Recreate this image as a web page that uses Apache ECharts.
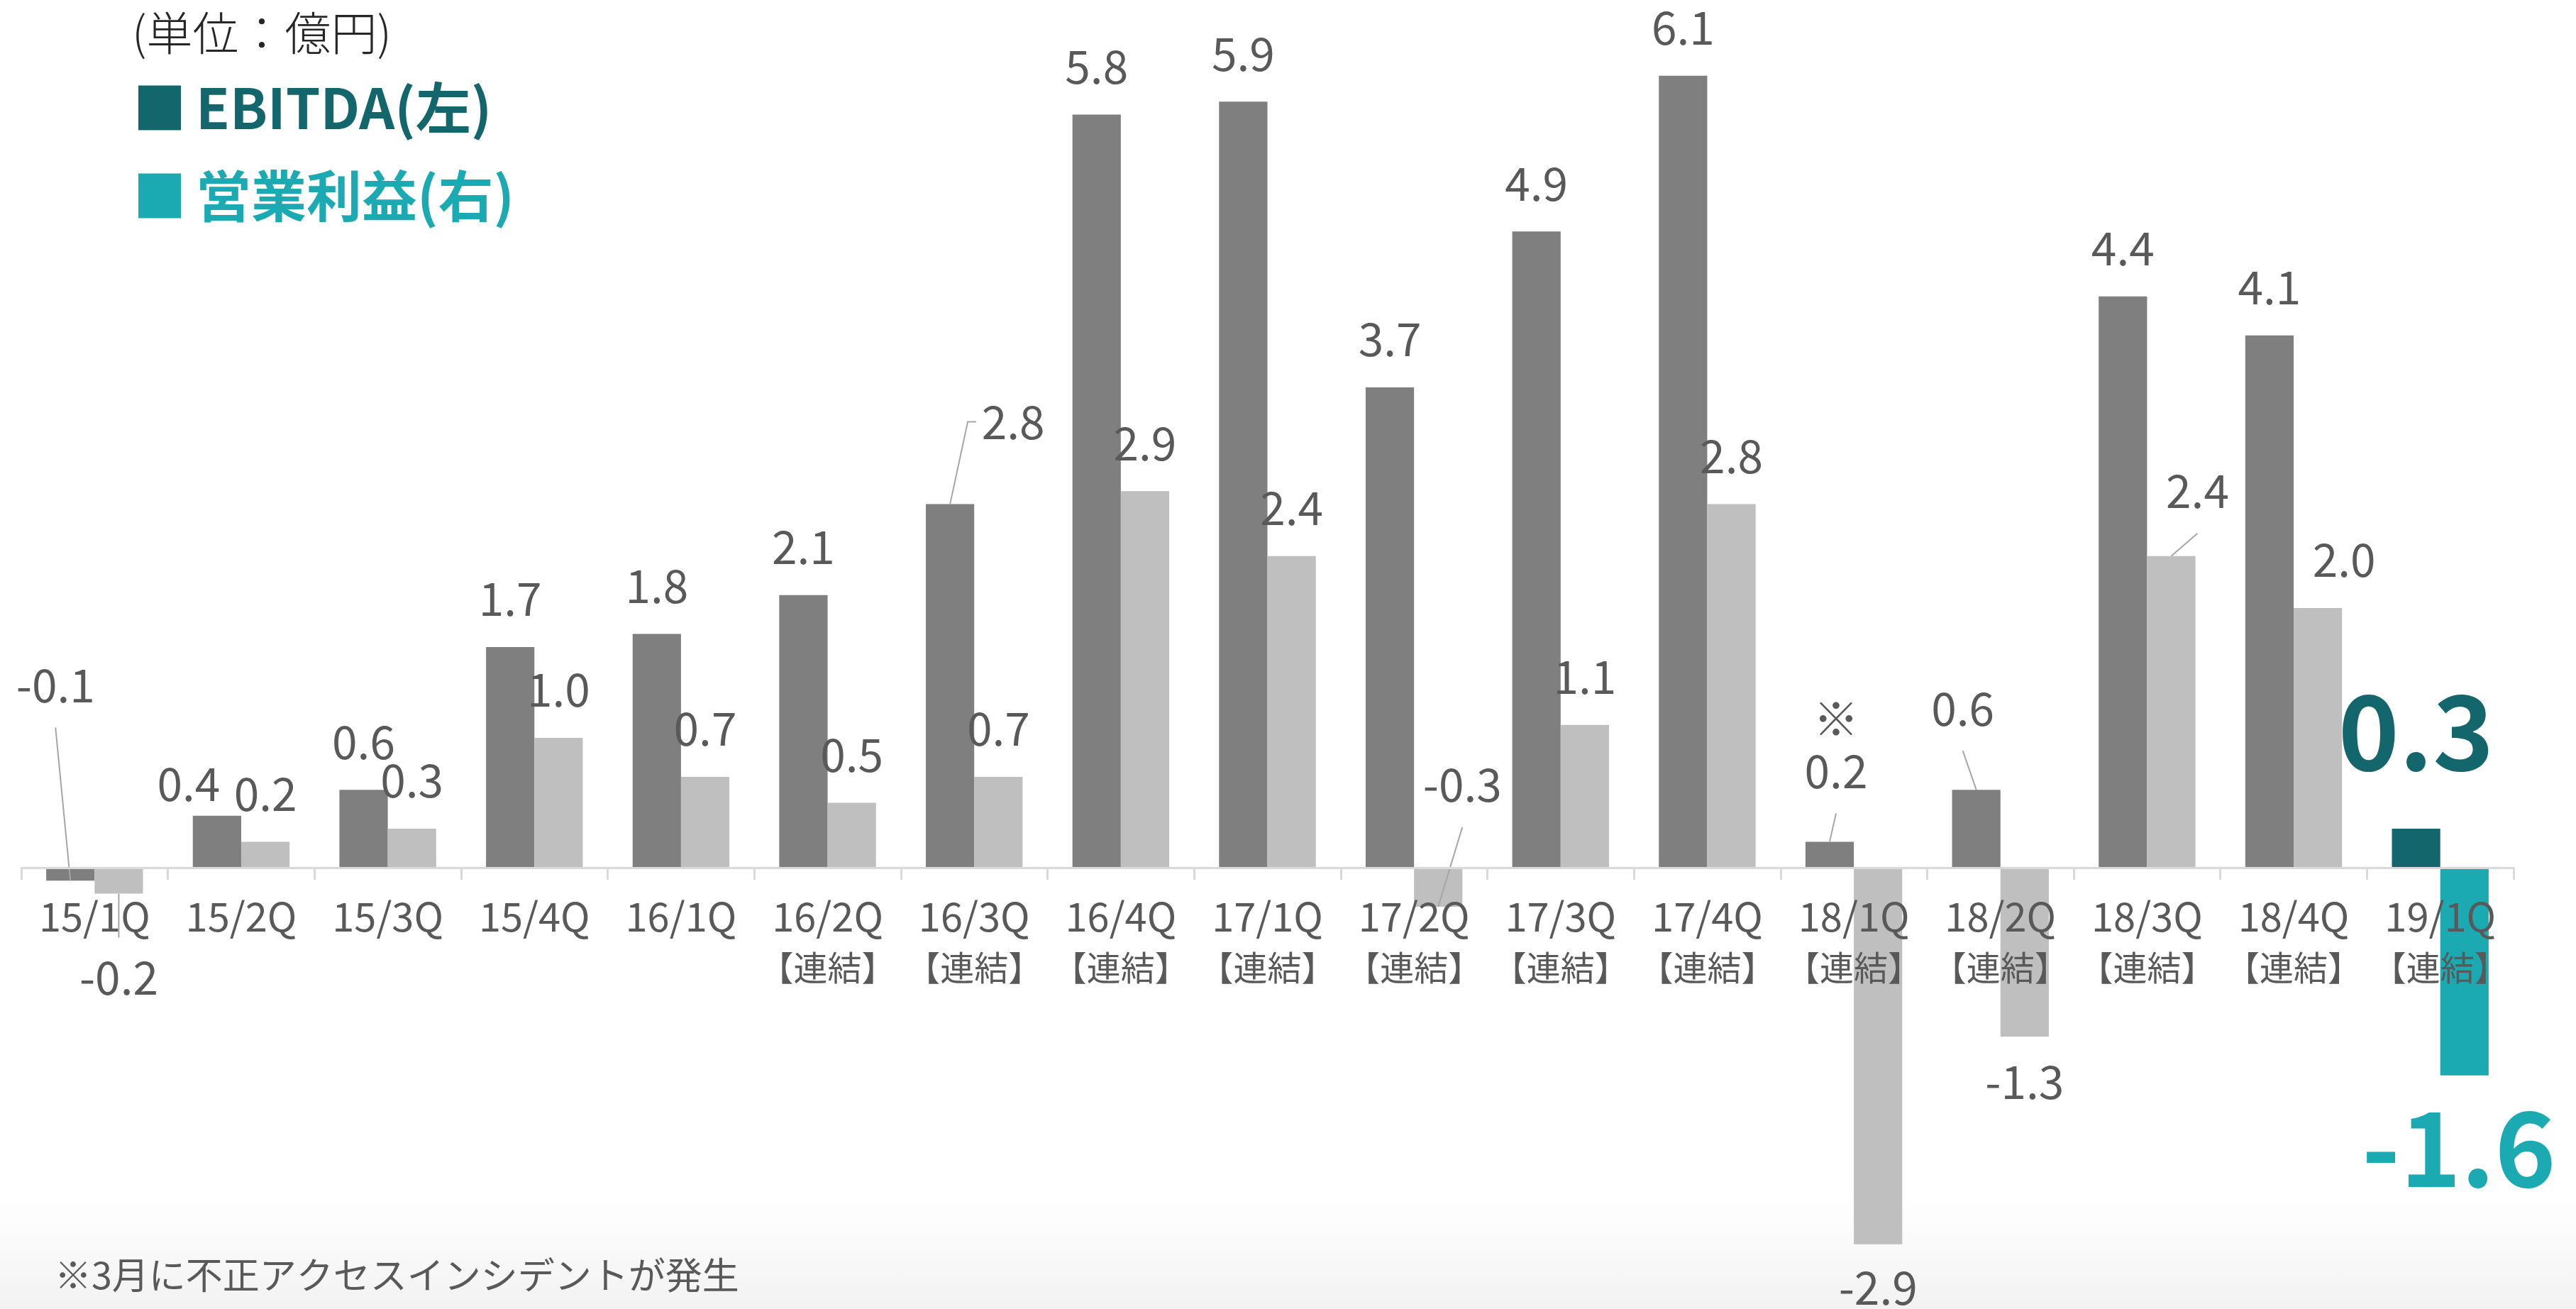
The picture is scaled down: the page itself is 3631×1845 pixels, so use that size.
<!DOCTYPE html>
<html>
<head>
<meta charset="utf-8">
<script src="https://cdn.jsdelivr.net/npm/echarts@6/dist/echarts.min.js"></script>
<style>
  html, body { margin: 0; padding: 0; }
  body {
    width: 3631px; height: 1845px;
    background: linear-gradient(to bottom, #ffffff 0px, #ffffff 1690px, #f2f2f2 1845px);
  }
  #chart { width: 3631px; height: 1845px; }
</style>
</head>
<body>
<div id="chart"></div>
<script>
// ---- data ----
const quarters = ['15/1Q', '15/2Q', '15/3Q', '15/4Q', '16/1Q', '16/2Q', '16/3Q', '16/4Q', '17/1Q',
  '17/2Q', '17/3Q', '17/4Q', '18/1Q', '18/2Q', '18/3Q', '18/4Q', '19/1Q'];
const consolidated = [false, false, false, false, false, true, true, true, true,
  true, true, true, true, true, true, true, true];
const consolidatedTag = '【連結】';
const ebitda = [-0.1, 0.4, 0.6, 1.7, 1.8, 2.1, 2.8, 5.8, 5.9, 3.7, 4.9, 6.1, 0.2, 0.6, 4.4, 4.1, 0.3];
const operatingProfit = [-0.2, 0.2, 0.3, 1.0, 0.7, 0.5, 0.7, 2.9, 2.4, -0.3, 1.1, 2.8, -2.9, -1.3, 2.4, 2.0, -1.6];
const ebitdaNotes = { 12: '※' };
const seriesNames = ['EBITDA(左)', '営業利益(右)'];
const unitText = '(単位：億円)';
const footnote = '※3月に不正アクセスインシデントが発生';

// ---- styling ----
const CJK = "'Noto Sans CJK JP', 'Noto Sans', sans-serif";
const NARROW = "'Liberation Sans Narrow', 'Noto Sans CJK JP', sans-serif";
const GRAY_E = '#7f7f7f', GRAY_O = '#bfbfbf';
const TEAL_DARK = '#13666b', TEAL = '#1baab2';
const TEXT = '#595959', LEADER = '#a6a6a6', AXIS = '#d9d9d9';
const LABEL_FS = 64, LABEL_LH = 64, LABEL_DIST = 36;
const BIG_FS = 146;
const HALF_BAR = 0.165;          // bar centre offset from the category centre, fraction of band
const latestIndex = quarters.length - 1;

// plot frame: value range and where the zero line sits
const Y_MIN = -3, Y_MAX = 6.5;
const PLOT = { left: 30, right: 88, top: 33.5, bottom: 73 };
const ZERO_Y = PLOT.top + (1845 - PLOT.top - PLOT.bottom) * Y_MAX / (Y_MAX - Y_MIN);

// label nudges in px; "leader" draws a guide line from the bar end to the label
const ebitdaLabelStyle = {
  0: { dx: -21, dy: -344, leader: 'straight' },
  1: { dx: -40, dy: 23 },
  6: { dx: 89, dy: -48, leader: 'elbow' },
  12: { dx: 9, dy: -32, leader: 'straight' },
  13: { dx: -19, dy: -47, leader: 'straight' },
  16: { dx: 0, dy: 0, big: true, distance: 65 }
};
const profitLabelStyle = {
  0: { dx: 0, dy: 50, leader: 'straight' },
  9: { dx: 34, dy: -240, leader: 'straight' },
  12: { dx: 0, dy: -7 },
  13: { dx: 0, dy: -4 },
  14: { dx: 37, dy: -24, leader: 'straight' },
  15: { dx: 37, dy: 0 },
  16: { dx: -8, dy: 0, big: true, distance: 29 }
};

function barData(values, styleMap, baseColor, latestColor) {
  return values.map((v, i) => {
    const s = styleMap[i] || {};
    const item = {
      value: v,
      itemStyle: { color: i === latestIndex ? latestColor : baseColor },
      label: { position: v < 0 ? 'bottom' : 'top', offset: [s.dx || 0, s.dy || 0] }
    };
    if (s.big) {
      Object.assign(item.label, {
        fontSize: BIG_FS, lineHeight: BIG_FS, fontWeight: 'bold',
        color: latestColor, distance: s.distance
      });
    }
    return item;
  });
}

function valueLabel(notes) {
  return p => {
    const txt = Number(p.value).toFixed(1);
    return notes && notes[p.dataIndex] ? '{n|' + notes[p.dataIndex] + '}\n' + txt : txt;
  };
}

function leaderSeries(values, styleMap, side, yAxisIndex) {
  const idx = Object.keys(styleMap).map(Number).filter(i => styleMap[i].leader);
  return {
    type: 'custom',
    xAxisIndex: 0,
    yAxisIndex: yAxisIndex,
    silent: true,
    z: 5,
    data: idx.map(i => [i, values[i]]),
    renderItem(params, api) {
      const i = api.value(0), v = api.value(1);
      const s = styleMap[i];
      const end = api.coord([i, v]);
      const band = api.size([1, 0])[0];
      const x0 = end[0] + side * band * HALF_BAR;
      const y0 = end[1];
      const lx = x0 + s.dx;
      const ly = (v < 0 ? y0 + LABEL_DIST + LABEL_LH / 2 : y0 - LABEL_DIST - LABEL_LH / 2) + s.dy;
      let pts;
      if (s.leader === 'elbow') {
        pts = [[x0, y0], [lx - 64, ly], [lx - 52, ly]];
      } else {
        pts = [[x0, y0], [lx, ly < y0 ? ly + 60 : ly - 56]];
      }
      return {
        type: 'polyline',
        shape: { points: pts },
        style: { stroke: LEADER, lineWidth: 2, fill: null }
      };
    }
  };
}

const baseLabel = {
  show: true,
  fontFamily: CJK,
  fontSize: LABEL_FS,
  lineHeight: LABEL_LH,
  color: TEXT,
  distance: LABEL_DIST
};

const chart = echarts.init(document.getElementById('chart'), null, { renderer: 'canvas' });
chart.setOption({
  animation: false,
  backgroundColor: 'transparent',
  title: [
    {
      text: unitText, left: 186, top: 14, padding: 0,
      textStyle: { fontFamily: CJK, fontSize: 65, lineHeight: 64, fontWeight: 300, color: '#262626' }
    },
    {
      text: footnote, left: 77, top: 1771, padding: 0,
      textStyle: { fontFamily: CJK, fontSize: 52, lineHeight: 52, fontWeight: 'normal', color: TEXT }
    }
  ],
  legend: {
    left: 190, top: 107, orient: 'vertical',
    itemWidth: 60, itemHeight: 63, itemGap: 44, icon: 'rect',
    selectedMode: false,
    textStyle: { fontFamily: CJK, fontSize: 78, lineHeight: 80, fontWeight: 'bold', padding: [0, 0, 0, 16] },
    data: [
      { name: seriesNames[0], textStyle: { color: TEAL_DARK } },
      { name: seriesNames[1], textStyle: { color: TEAL } }
    ]
  },
  grid: [
    // bars
    Object.assign({ containLabel: false, outerBoundsMode: 'none' }, PLOT),
    // category axis drawn along the zero line
    { left: PLOT.left, right: PLOT.right, top: PLOT.top, bottom: 1845 - ZERO_Y,
      containLabel: false, outerBoundsMode: 'none' }
  ],
  xAxis: [
    { type: 'category', gridIndex: 0, data: quarters, boundaryGap: true, show: false },
    {
      type: 'category', gridIndex: 1, data: quarters, boundaryGap: true,
      z: 10,
      axisLine: { onZero: false, lineStyle: { color: AXIS, width: 3 } },
      axisTick: { show: true, length: 17, lineStyle: { color: AXIS, width: 3 } },
      axisLabel: {
        interval: 0,
        margin: 33,
        formatter: (val, i) => consolidated[i] ? '{q|' + val + '}\n{t|' + consolidatedTag + '}' : '{q|' + val + '}',
        rich: {
          q: { fontFamily: NARROW, fontSize: 56, lineHeight: 72, color: TEXT },
          t: { fontFamily: CJK, fontSize: 48, lineHeight: 72, color: TEXT }
        }
      }
    }
  ],
  yAxis: [
    { type: 'value', gridIndex: 0, min: Y_MIN, max: Y_MAX, show: false },
    { type: 'value', gridIndex: 0, min: Y_MIN, max: Y_MAX, show: false },
    { type: 'value', gridIndex: 1, min: 0, max: 1, show: false }
  ],
  series: [
    {
      name: seriesNames[0],
      type: 'bar',
      xAxisIndex: 0,
      yAxisIndex: 0,
      barWidth: '33%',
      barGap: '0%',
      z: 3,
      itemStyle: { color: TEAL_DARK },
      label: Object.assign({}, baseLabel, {
        formatter: valueLabel(ebitdaNotes),
        rich: { n: { fontFamily: CJK, fontSize: LABEL_FS, lineHeight: 84, color: TEXT } }
      }),
      data: barData(ebitda, ebitdaLabelStyle, GRAY_E, TEAL_DARK)
    },
    {
      name: seriesNames[1],
      type: 'bar',
      xAxisIndex: 0,
      yAxisIndex: 1,
      barWidth: '33%',
      barGap: '0%',
      z: 3,
      itemStyle: { color: TEAL },
      label: Object.assign({}, baseLabel, { formatter: valueLabel(null) }),
      data: barData(operatingProfit, profitLabelStyle, GRAY_O, TEAL)
    },
    leaderSeries(ebitda, ebitdaLabelStyle, -1, 0),
    leaderSeries(operatingProfit, profitLabelStyle, 1, 1)
  ]
});
</script>
</body>
</html>
